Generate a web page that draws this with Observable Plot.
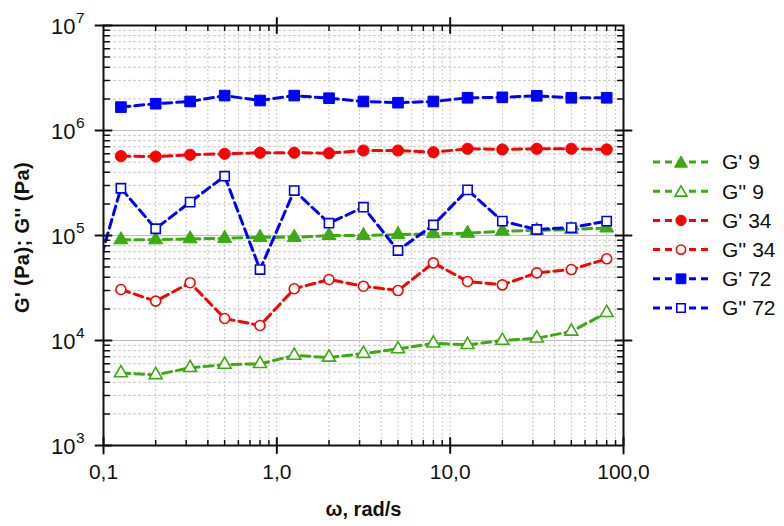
<!DOCTYPE html>
<html><head><meta charset="utf-8">
<script src="https://cdn.jsdelivr.net/npm/d3@7"></script>
<script src="https://cdn.jsdelivr.net/npm/@observablehq/plot@0.6"></script>
<style>
body{margin:0;background:#fff;font-family:Arial,"Liberation Sans",sans-serif;}
#wrap{position:relative;width:784px;height:526px;overflow:hidden;}
#wrap svg{position:absolute;left:0;top:0;}
</style></head><body><div id="wrap"></div>
<script>
// frequency (rad/s)
const omega = [0.126, 0.2, 0.316, 0.5, 0.8, 1.26, 2, 3.16, 5, 8, 12.6, 20, 31.6, 50, 80];
// G'' 72 has one extra point below the visible range (line enters from the left edge)
const omega72pp = [0.0794, ...omega];

const gp9   = [9.1e4, 9.1e4, 9.3e4, 9.4e4, 9.6e4, 9.6e4, 1.0e5, 1.0e5, 1.02e5, 1.04e5, 1.05e5, 1.1e5, 1.12e5, 1.14e5, 1.18e5];
const gpp9  = [4.9e3, 4.7e3, 5.5e3, 5.9e3, 6.0e3, 7.2e3, 6.9e3, 7.5e3, 8.3e3, 9.4e3, 9.1e3, 1.0e4, 1.05e4, 1.22e4, 1.84e4];
const gp34  = [5.7e5, 5.65e5, 5.87e5, 6.0e5, 6.14e5, 6.14e5, 6.08e5, 6.45e5, 6.45e5, 6.21e5, 6.7e5, 6.6e5, 6.7e5, 6.7e5, 6.6e5];
const gpp34 = [3.06e4, 2.37e4, 3.55e4, 1.62e4, 1.39e4, 3.11e4, 3.81e4, 3.29e4, 2.99e4, 5.49e4, 3.65e4, 3.39e4, 4.41e4, 4.74e4, 6.0e4];
const gp72  = [1.67e6, 1.8e6, 1.89e6, 2.15e6, 1.93e6, 2.15e6, 2.03e6, 1.89e6, 1.84e6, 1.89e6, 2.05e6, 2.07e6, 2.14e6, 2.05e6, 2.05e6];
const gpp72 = [2.0e4, 2.82e5, 1.16e5, 2.08e5, 3.67e5, 4.74e4, 2.68e5, 1.31e5, 1.86e5, 7.2e4, 1.26e5, 2.72e5, 1.37e5, 1.14e5, 1.19e5, 1.37e5];

const seriesNames = ["G' 9", "G'' 9", "G' 34", "G'' 34", "G' 72", "G'' 72"];

const xMajor = [0.1, 1, 10, 100];
const xTickLabels = ["0,1", "1,0", "10,0", "100,0"];
const yMajor = [1e3, 1e4, 1e5, 1e6, 1e7];
const yExponents = ["3", "4", "5", "6", "7"];
const xTitle = "ω, rad/s";
const yTitle = "G' (Pa); G'' (Pa)";
const mults = [2, 3, 4, 5, 6, 7, 8, 9];
const xMinor = [0.1, 1, 10].flatMap(d => mults.map(m => d * m));
const yMinor = [1e3, 1e4, 1e5, 1e6].flatMap(d => mults.map(m => d * m));

const GREEN = "#3caa10", RED = "#ff0000", BLUE = "#0000ff";
const series = [
  {name: seriesNames[0], x: omega, y: gp9, color: GREEN, symbol: "triangle", filled: true, r: 5.2},
  {name: seriesNames[1], x: omega, y: gpp9, color: GREEN, symbol: "triangle", filled: false, r: 4.8},
  {name: seriesNames[2], x: omega, y: gp34, color: RED, symbol: "circle", filled: true, r: 5.6},
  {name: seriesNames[3], x: omega, y: gpp34, color: RED, symbol: "circle", filled: false, r: 5.0},
  {name: seriesNames[4], x: omega, y: gp72, color: BLUE, symbol: "square", filled: true, r: 6.0},
  {name: seriesNames[5], x: omega72pp, y: gpp72, color: BLUE, symbol: "square", filled: false, r: 5.2}
];

const tickShape = {draw(ctx, l) { ctx.moveTo(0, 0); ctx.lineTo(0, -l); }};
const tk = (data, ch, anchor, rotate, len, sw, mode) =>
  Plot.vector(data, {[ch]: d => d, frameAnchor: anchor, rotate, length: len, shape: tickShape,
    anchor: mode, stroke: "#111", strokeWidth: sw});

const marks = [
  Plot.ruleY(yMinor, {y: d => d, stroke: "#c8c8c8", strokeDasharray: "3,2", strokeWidth: 1}),
  Plot.ruleX(xMinor, {x: d => d, stroke: "#c8c8c8", strokeDasharray: "2,2", strokeWidth: 1}),
  Plot.ruleX([1, 10], {x: d => d, stroke: "#c8c8c8", strokeDasharray: "2,2", strokeWidth: 1}),
  Plot.ruleY([1e4, 1e5, 1e6], {y: d => d, stroke: "#bdbdbd", strokeWidth: 1.2}),
];
for (const s of series) {
  const data = s.x.map((x, i) => ({x, y: s.y[i]}));
  marks.push(Plot.line(data, {x: "x", y: "y", stroke: s.color, strokeWidth: 3, strokeDasharray: "9,5", clip: true}));
}
for (const s of series) {
  const data = s.x.map((x, i) => ({x, y: s.y[i]}));
  marks.push(Plot.dot(data, {x: "x", y: "y", symbol: s.symbol, r: s.r, clip: true,
    fill: s.filled ? s.color : "white", stroke: s.color, strokeWidth: s.filled ? 1 : 1.6}));
}
marks.push(
  Plot.frame({stroke: "#111", strokeWidth: 2}),
  tk(xMinor, "x", "bottom", 0, 5, 1.5, "start"),
  tk(xMinor, "x", "top", 180, 5, 1.5, "start"),
  tk([1, 10], "x", "bottom", 0, 15, 2, "middle"),
  tk([1, 10], "x", "top", 0, 15, 2, "middle"),
  tk(yMinor, "y", "left", 90, 6, 1.5, "start"),
  tk(yMinor, "y", "right", -90, 6, 1.5, "start"),
  tk([1e4, 1e5, 1e6], "y", "left", 90, 16, 2, "middle"),
  tk([1e4, 1e5, 1e6], "y", "right", 90, 16, 2, "middle"),
  tk([0.1, 100], "x", "bottom", 0, 16, 2, "middle"),
  tk([1e3, 1e7], "y", "left", 90, 16, 2, "middle"),
  Plot.text(xMajor, {x: d => d, frameAnchor: "bottom", dy: 33, text: (d, i) => xTickLabels[i],
    fontSize: 21, fill: "#111"}),
  Plot.text(yMajor, {y: d => d, frameAnchor: "left", dx: -28, dy: 1, textAnchor: "end", text: () => "10",
    fontSize: 22, fill: "#111"}),
  Plot.text(yMajor, {y: d => d, frameAnchor: "left", dx: -27.5, dy: -7, textAnchor: "start", text: (d, i) => yExponents[i],
    fontSize: 15.5, fill: "#111"}),
  Plot.text([xTitle], {frameAnchor: "bottom", dy: 70, text: d => d, fontSize: 20, fontWeight: "bold", fill: "#111"})
);

const chart = Plot.plot({
  width: 784, height: 526,
  marginLeft: 103, marginRight: 161, marginTop: 25, marginBottom: 81,
  style: {fontFamily: "Arial, 'Liberation Sans', sans-serif", background: "white", overflow: "visible"},
  x: {type: "log", domain: [0.1, 100], axis: null},
  y: {type: "log", domain: [1e3, 1e7], axis: null},
  marks
});
const wrap = document.getElementById("wrap");
wrap.appendChild(chart);

// overlay: y title and legend
const leg = d3.select(wrap).append("svg").attr("width", 784).attr("height", 526)
  .style("pointer-events", "none").style("font-family", "Arial, 'Liberation Sans', sans-serif");
// y title: starts near the 10^4 level and runs upward, as in the reference
leg.append("text").attr("transform", "translate(22,313) rotate(-90)")
  .style("text-anchor", "start").attr("dy", "0.35em").attr("font-size", 20).attr("font-weight", "bold")
  .attr("letter-spacing", "0.4px").attr("fill", "#111").text(yTitle);
series.forEach((s, i) => {
  const y = 162 + i * 29.2;
  const g = leg.append("g").attr("transform", `translate(0,${y})`);
  g.append("line").attr("x1", 653).attr("x2", 709).attr("y1", 0).attr("y2", 0)
    .attr("stroke", s.color).attr("stroke-width", 3).attr("stroke-dasharray", "7,5");
  const sym = {triangle: d3.symbolTriangle, circle: d3.symbolCircle, square: d3.symbolSquare}[s.symbol];
  g.append("path").attr("transform", `translate(681,${s.symbol === "triangle" ? 1.5 : 0})`)
    .attr("d", d3.symbol(sym, s.r * s.r * Math.PI * 0.85)())
    .attr("fill", s.filled ? s.color : "white").attr("stroke", s.color).attr("stroke-width", s.filled ? 1 : 1.6);
  g.append("text").attr("x", 722).attr("y", 0).attr("dy", "0.35em").attr("font-size", 21)
    .attr("fill", "#111").text(s.name);
});
</script></body></html>
